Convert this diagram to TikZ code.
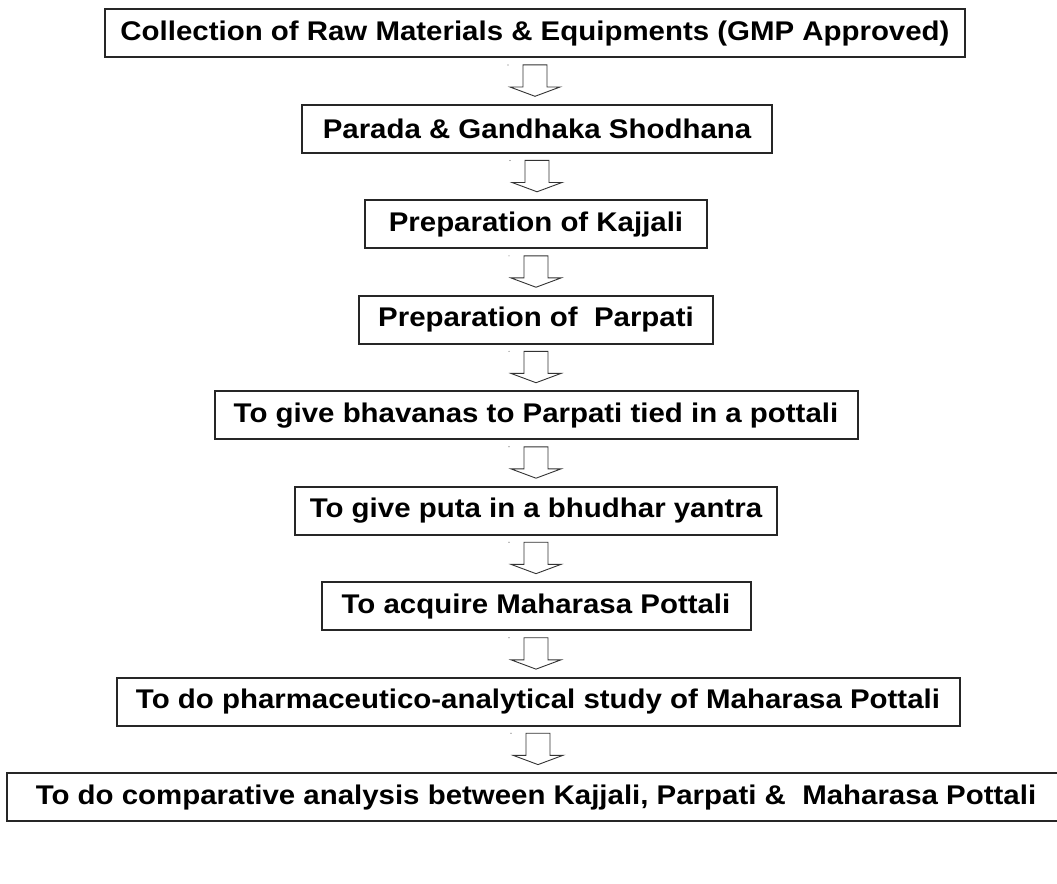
\documentclass[tikz,border=0pt]{standalone}
\usepackage{fontspec}
\setmainfont{Liberation Sans}[FakeStretch=1.09]
\usetikzlibrary{calc}
\newcommand\flowarrow[2]{%
  \draw[blockarrow] let \p1=(#1.south), \p2=(#2.north) in
    (\x1-12pt,\y1-6.5pt) -- (\x1+12pt,\y1-6.5pt) -- (\x1+12pt,\y2+16.7pt) --
    (\x1+25pt,\y2+16.7pt) -- (\x1,\y2+7.4pt) -- (\x1-25pt,\y2+16.7pt) --
    (\x1-12pt,\y2+16.7pt) -- cycle;
  \fill[black!60] let \p1=(#1.south) in (\x1-27pt,\y1-6.5pt) circle (0.6pt);}
\begin{document}
\begin{tikzpicture}[x=1pt,y=-0.926pt,
  box/.style={draw=black!85, line width=2pt, fill=white, minimum height=48.2pt,
    inner sep=0pt, font=\bfseries\fontsize{27}{32}\selectfont, text=black},
  blockarrow/.style={draw=black!80, line width=0.9pt, fill=white, line join=miter}]
\useasboundingbox (0,0) rectangle (1057,953.6);
\clip (0,0) rectangle (1057,953.6);
\node[box, minimum width=860pt] (b1) at (535,36) {Collection of Raw Materials \& Equipments (GMP Approved)};
\node[box, minimum width=470pt] (b2) at (537,139.1) {Parada \& Gandhaka Shodhana};
\node[box, minimum width=342pt] (b3) at (536,242.2) {Preparation of Kajjali};
\node[box, minimum width=354pt] (b4) at (536,345.3) {Preparation of~ Parpati};
\node[box, minimum width=643pt] (b5) at (536,448.4) {To give bhavanas to Parpati tied in a pottali};
\node[box, minimum width=482pt] (b6) at (536,551.5) {To give puta in a bhudhar yantra};
\node[box, minimum width=429pt] (b7) at (536,654.6) {To acquire Maharasa Pottali};
\node[box, minimum width=843pt] (b8) at (538,757.7) {To do pharmaceutico-analytical study of Maharasa Pottali};
\node[box, minimum width=1058pt] (b9) at (536,860.8) {To do comparative analysis between Kajjali, Parpati \&~ Maharasa Pottali};
\flowarrow{b1}{b2}
\flowarrow{b2}{b3}
\flowarrow{b3}{b4}
\flowarrow{b4}{b5}
\flowarrow{b5}{b6}
\flowarrow{b6}{b7}
\flowarrow{b7}{b8}
\flowarrow{b8}{b9}
\end{tikzpicture}
\end{document}
